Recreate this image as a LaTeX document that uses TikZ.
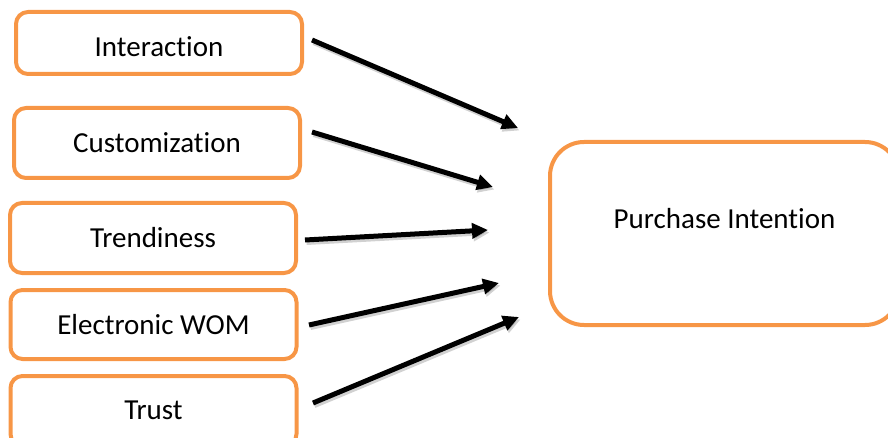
\documentclass[tikz,border=0pt]{standalone}
\usepackage{fontspec}
\setmainfont{Carlito}[RawFeature={-liga;-clig;-dlig}]
\usetikzlibrary{arrows.meta}
\definecolor{boxorange}{HTML}{F79646}
\begin{document}
\begin{tikzpicture}[x=1pt,y=-1pt,
  factor/.style={draw=boxorange, line width=4pt, rounded corners=12pt,
    minimum width=286pt, minimum height=70pt, inner sep=0pt,
    font=\fontsize{29}{34}\selectfont},
  outcome/.style={draw=boxorange, line width=4pt, rounded corners=34pt,
    minimum width=349pt, minimum height=183pt, inner sep=0pt},
  lbl/.style={inner sep=0pt, font=\fontsize{29}{34}\selectfont},
  link/.style={line width=5pt, -{Triangle[length=16pt,width=15pt]}},
  linkshadow/.style={line width=5pt, draw=black, opacity=0.18,
    -{Triangle[length=16pt,width=15pt]}}]
\useasboundingbox (0,0) rectangle (888,438);
\clip (0,0) rectangle (888,438);

% predictor boxes
\node[factor, minimum height=62pt] (int) at (159,43) {};
\node[lbl] (inttxt) at (159,47) {Interaction};
\node[factor] (cus) at (157,143) {Customization};
\node[factor] (tre) at (153,238) {Trendiness};
\node[factor, minimum height=69pt] (ewom) at (153.5,324.5) {Electronic WOM};
\node[factor] (tru) at (153.5,411) {};
\node[lbl] (trutxt) at (153.5,410) {Trust};

% outcome box
\node[outcome] (pi) at (724.5,233.5) {};
\node[lbl] (pitxt) at (724.5,218.5) {Purchase Intention};

% arrow end points
\coordinate (s1) at (312,40);  \coordinate (e1) at (518,128);
\coordinate (s2) at (312,132); \coordinate (e2) at (493,187);
\coordinate (s3) at (305,240); \coordinate (e3) at (488,230);
\coordinate (s4) at (309,325); \coordinate (e4) at (499,283);
\coordinate (s5) at (313,403); \coordinate (e5) at (519,317);

% soft drop shadows under the arrows
\foreach \i in {1,...,5}
  \draw[linkshadow, transform canvas={shift={(1.5pt,-2.5pt)}}] (s\i) -- (e\i);

% arrows
\foreach \i in {1,...,5}
  \draw[link] (s\i) -- (e\i);
\end{tikzpicture}
\end{document}
